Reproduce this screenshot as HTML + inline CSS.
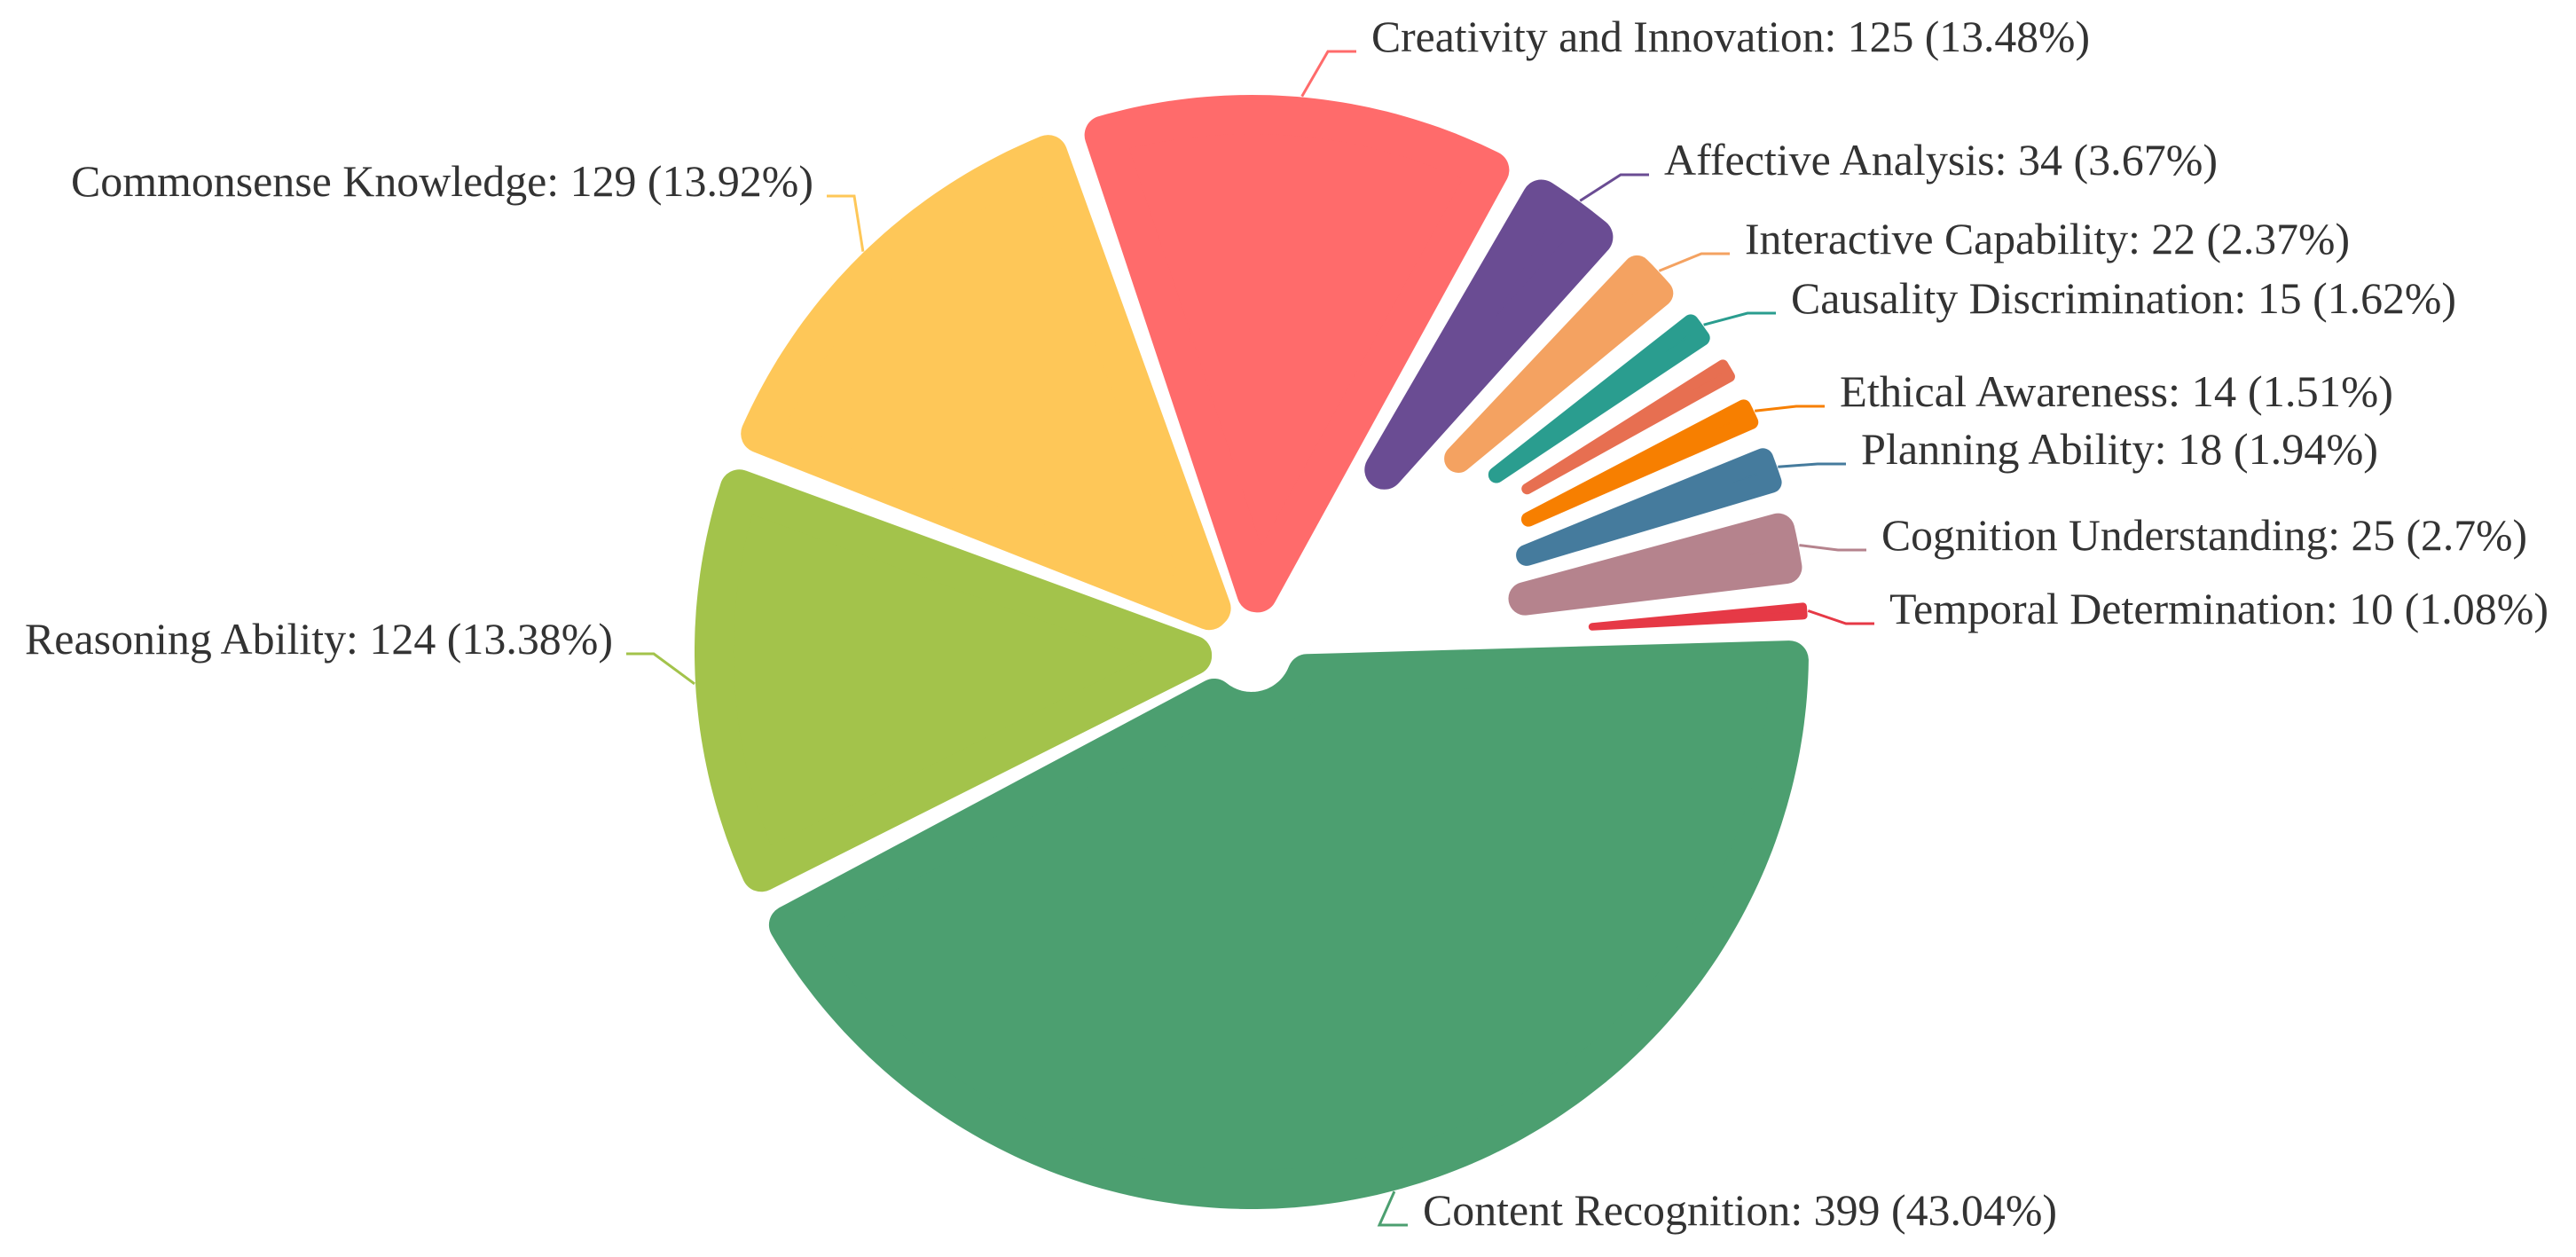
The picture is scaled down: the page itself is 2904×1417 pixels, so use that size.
<!DOCTYPE html>
<html><head><meta charset="utf-8"><style>
html,body{margin:0;padding:0;background:#fff;}
svg{display:block;}
</style></head><body>
<svg id="chart" width="2904" height="1417" viewBox="0 0 2904 1417" xmlns="http://www.w3.org/2000/svg">
<g id="slices"></g>
<g id="leaders"></g>
<g id="labels"></g>
</svg>
<script>
const categories = ["Content Recognition","Reasoning Ability","Commonsense Knowledge","Creativity and Innovation","Affective Analysis","Interactive Capability","Causality Discrimination","Other","Ethical Awareness","Planning Ability","Cognition Understanding","Temporal Determination"];
const values = [399,124,129,125,34,22,15,12,14,18,25,10];
const colors = ["#4c9f70","#a3c34b","#fec758","#ff6b6b","#6a4c93","#f4a261","#2a9d8f","#e76f51","#f77f00","#457b9d","#b5838d","#e63946"];
const showLabel = [true,true,true,true,true,true,true,false,true,true,true,true];
// layout (not data): label text x, baseline, side, width
const labelLayout = [[1604,1381,1,715],[691,737,-1,663],[917,221,-1,837],[1546,58,1,810],[1876,197,1,624],[1967,286,1,682],[2019,353,1,750],[0,0,1,0],[2074,458,1,624],[2098,523,1,583],[2121,620,1,728],[2130,703,1,743]];

const NS="http://www.w3.org/2000/svg";
const cx=1411, cy=735, R=628, r0=45, padA=0.7*Math.PI/180, gap=4, startDeg=-2.3;
const total=values.reduce((a,b)=>a+b,0);
const sl=document.getElementById('slices'), ld=document.getElementById('leaders'), lb=document.getElementById('labels');
function pt(a,r){return [cx+r*Math.cos(a), cy+r*Math.sin(a)];}
let ang=startDeg*Math.PI/180;
values.forEach((v,i)=>{
  const span=v/total*2*Math.PI;
  const a0=ang+padA, a1=ang+span-padA, mid=ang+span/2;
  ang+=span;
  const half=(a1-a0)/2;
  const d=Math.min(22,Math.max(1.5,(R*Math.sin(half)-gap)*0.45));
  const g=gap+d, Ro=R-d;
  if (Ro*Math.sin(half) <= g) return;
  let ri=Math.max(r0+d, g/Math.sin(half)+1);
  const oa0=a0+Math.asin(g/Ro), oa1=a1-Math.asin(g/Ro);
  const ia0=a0+Math.asin(Math.min(1,g/ri)), ia1=a1-Math.asin(Math.min(1,g/ri));
  let s="";
  const n=Math.max(4,Math.ceil((oa1-oa0)*60));
  for(let k=0;k<=n;k++){const p=pt(oa0+(oa1-oa0)*k/n,Ro); s+=(k?"L":"M")+p[0].toFixed(1)+","+p[1].toFixed(1);}
  const m=Math.max(2,Math.ceil((ia1-ia0)*30));
  for(let k=0;k<=m;k++){const p=pt(ia1-(ia1-ia0)*k/m,ri); s+="L"+p[0].toFixed(1)+","+p[1].toFixed(1);}
  s+="Z";
  const path=document.createElementNS(NS,'path');
  path.setAttribute('d',s);
  path.setAttribute('fill',colors[i]);
  path.setAttribute('stroke',colors[i]);
  path.setAttribute('stroke-width',(2*d).toFixed(1));
  path.setAttribute('stroke-linejoin','round');
  
  
  sl.appendChild(path);
  if(!showLabel[i]) return;
  const L=labelLayout[i];
  const tx=L[0], by=L[1], side=L[2];
  const sp=pt(mid,R+1);
  const ex= side>0 ? tx-49 : tx+46;
  const fx= side>0 ? tx-17 : tx+15;
  const line=document.createElementNS(NS,'polyline');
  line.setAttribute('points',sp[0].toFixed(1)+","+sp[1].toFixed(1)+" "+ex+","+by+" "+fx+","+by);
  line.setAttribute('fill','none');
  line.setAttribute('stroke',colors[i]);
  line.setAttribute('stroke-width','3');
  
  
  ld.appendChild(line);
  const pct=parseFloat((v/total*100).toFixed(2));
  const t=document.createElementNS(NS,'text');
  t.textContent=categories[i]+": "+v+" ("+pct+"%)";
  t.setAttribute('x',tx);
  t.setAttribute('y',by);
  t.setAttribute('text-anchor',side>0?'start':'end');
  t.setAttribute('font-family','"Liberation Serif", serif');
  t.setAttribute('font-size','50');
  t.setAttribute('fill','#333');
  t.setAttribute('textLength',L[3]);
  t.setAttribute('lengthAdjust','spacingAndGlyphs');
  
  
  lb.appendChild(t);
});
</script>
</body></html>
